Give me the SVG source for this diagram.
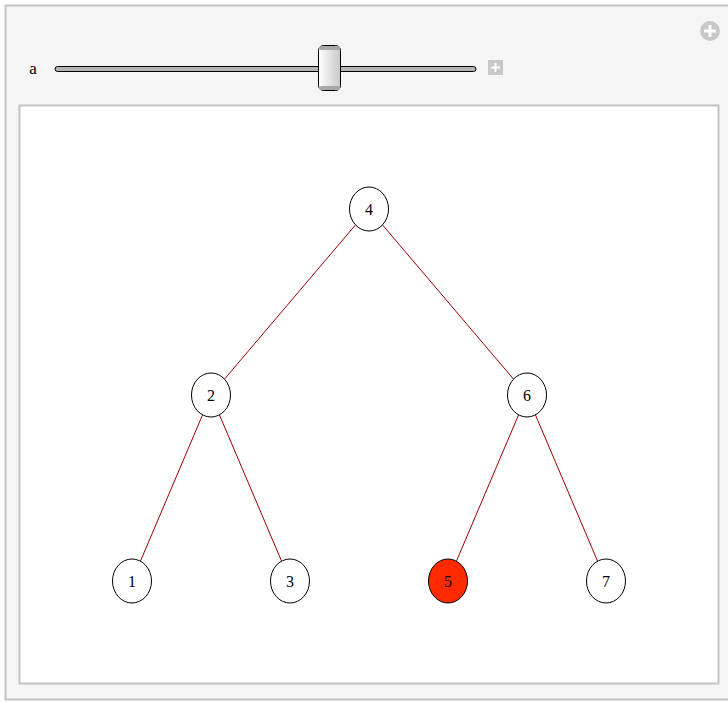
<svg xmlns="http://www.w3.org/2000/svg" width="728" height="702" viewBox="0 0 728 702">
<defs>
<linearGradient id="thumbG" x1="0" y1="0" x2="1" y2="0">
<stop offset="0" stop-color="#ffffff"/>
<stop offset="1" stop-color="#c8c8c8"/>
</linearGradient>
<style>
.node ellipse{fill:#ffffff;stroke:#000000;stroke-width:1}
.node text{font-family:"Liberation Serif",serif;font-size:16px;text-anchor:middle;fill:#000}
.edge{stroke:#990000;stroke-width:1}
</style>
</defs>
<rect x="0" y="0" width="728" height="702" fill="#ffffff"/>
<rect x="5.5" y="5.5" width="730" height="694" fill="#f5f5f5" stroke="#c4c4c4" stroke-width="2"/>
<g id="controls">
<text x="33" y="74" font-family="Liberation Serif,serif" font-size="17" text-anchor="middle" fill="#000">a</text>
<rect x="55" y="66.5" width="421" height="5" rx="2.5" fill="#b4b4b4" stroke="#000" stroke-width="1"/>
<rect x="318.5" y="45.5" width="22" height="45" rx="5" fill="url(#thumbG)" stroke="#000" stroke-width="1"/>
<rect x="319" y="46" width="21" height="4" rx="3" fill="#a8a8a8"/>
<rect x="319" y="86" width="21" height="4" rx="3" fill="#a8a8a8"/>
<rect x="488" y="60" width="15" height="15" fill="#c8c8c8"/>
<path d="M495.5 63v9M491 67.5h9" stroke="#fff" stroke-width="2"/>
<circle cx="710" cy="31" r="10" fill="#c8c8c8"/>
<path d="M710 25v12M704 31h12" stroke="#fff" stroke-width="3"/>
</g>
<rect x="19.5" y="105.5" width="699" height="578" fill="#ffffff" stroke="#c4c4c4" stroke-width="2"/>
<g id="edges">
<line class="edge" x1="369" y1="209" x2="211" y2="395"/>
<line class="edge" x1="369" y1="209" x2="527" y2="395"/>
<line class="edge" x1="211" y1="395" x2="132" y2="581"/>
<line class="edge" x1="211" y1="395" x2="290" y2="581"/>
<line class="edge" x1="527" y1="395" x2="448" y2="581"/>
<line class="edge" x1="527" y1="395" x2="606" y2="581"/>
</g>
<g id="node4" class="node"><ellipse cx="369" cy="209" rx="19.5" ry="22"/><text x="369" y="215">4</text></g>
<g id="node2" class="node"><ellipse cx="211" cy="395" rx="19.5" ry="22"/><text x="211" y="401">2</text></g>
<g id="node6" class="node"><ellipse cx="527" cy="395" rx="19.5" ry="22"/><text x="527" y="401">6</text></g>
<g id="node1" class="node"><ellipse cx="132" cy="581" rx="19.5" ry="22"/><text x="132" y="587">1</text></g>
<g id="node3" class="node"><ellipse cx="290" cy="581" rx="19.5" ry="22"/><text x="290" y="587">3</text></g>
<g id="node5" class="node"><ellipse cx="448" cy="581" rx="19.5" ry="22" style="fill:#ff2a00"/><text x="448" y="587">5</text></g>
<g id="node7" class="node"><ellipse cx="606" cy="581" rx="19.5" ry="22"/><text x="606" y="587">7</text></g>
</svg>
